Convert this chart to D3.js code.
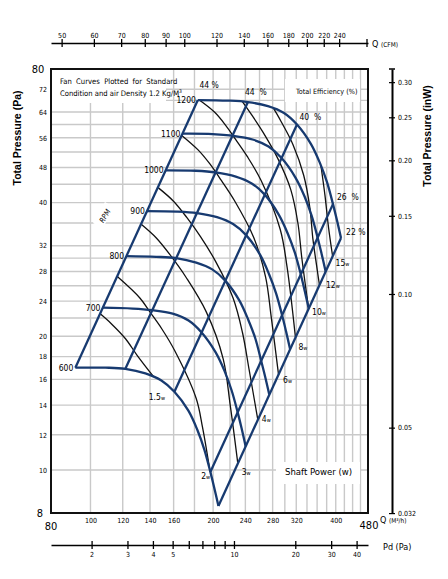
<!DOCTYPE html>
<html>
<head>
<meta charset="utf-8">
<script src="https://cdn.jsdelivr.net/npm/d3@7"></script>
<style>
body { margin: 0; background: #fff; }
</style>
</head>
<body>
<script>
// page size
const w = 448;
const h = 579;
const font = "'Liberation Sans Narrow', 'DejaVu Sans Condensed', 'Liberation Sans', sans-serif";
const blue = "#173a70";

// axis ticks
const qTicks = [100, 120, 140, 160, 200, 240, 280, 320, 400];
const qGrid = [100, 120, 140, 160, 180, 200, 220, 240, 260, 280, 300, 320, 340, 360, 380, 400, 420, 440, 460];
const pTicks = [72, 64, 56, 48, 40, 32, 28, 24, 20, 18, 16, 14, 12, 10];
const pGrid = [10, 12, 14, 16, 18, 20, 22, 24, 26, 28, 30, 32, 36, 40, 44, 48, 52, 56, 60, 64, 68, 72];
const cfmTicks = [50, 60, 70, 80, 90, 100, 120, 140, 160, 180, 200, 220, 240];
const pdTicks = [2, 3, 4, 5, 6, 7, 8, 9, 10, 20, 30, 40];
const pdLabels = [2, 3, 4, 5, 10, 20, 30, 40];
const inwTicks = [0.30, 0.25, 0.20, 0.15, 0.10, 0.05, 0.0321];

// unit conversions used for the extra axes
const cfmFactor = 1.699;   // m3/h per CFM
const inwFactor = 249.1;   // Pa per inch of water
const pdDomain = [1.264, 45.5];

// fan curves, [Q m3/h, P Pa]
const rpms = [600, 700, 800, 900, 1000, 1100, 1200];
const curve600 = [[91.8,17.0],[108.8,17.0],[121.8,16.9],[136.4,16.5],[149.3,15.9],[160.7,15.0],[173.9,13.6],[183.0,12.3],[190.4,11.1],[196.9,9.9],[201.4,9.1],[206.1,8.3]];
const curve700 = [[107.0,23.2],[126.9,23.1],[142.0,22.9],[159.1,22.5],[174.1,21.7],[187.4,20.4],[202.9,18.4],[213.4,16.7],[222.1,15.1],[229.7,13.5],[235.0,12.4],[240.4,11.3]];
const curve800 = [[122.3,30.3],[145.0,30.2],[162.3,30.0],[181.8,29.3],[199.0,28.3],[214.2,26.7],[231.9,24.1],[243.9,21.8],[253.8,19.8],[262.5,17.6],[268.5,16.2],[274.7,14.8]];
const curve900 = [[137.6,38.3],[163.1,38.2],[182.6,37.9],[204.5,37.1],[223.9,35.8],[241.0,33.8],[260.9,30.5],[274.4,27.6],[285.5,25.0],[295.4,22.3],[302.1,20.5],[309.1,18.7]];
const curve1000 = [[152.9,47.3],[181.3,47.2],[202.9,46.8],[227.3,45.8],[248.8,44.2],[267.8,41.7],[289.8,37.6],[304.9,34.1],[317.3,30.9],[328.2,27.6],[335.7,25.3],[343.4,23.1]];
const curve1100 = [[168.2,57.2],[199.4,57.1],[223.2,56.6],[250.0,55.5],[273.6,53.5],[294.5,50.4],[318.8,45.5],[335.4,41.3],[349.0,37.4],[361.0,33.4],[369.2,30.7],[377.8,28.0]];
const curve1200 = [[183.5,68.1],[217.5,67.9],[243.5,67.4],[272.7,66.0],[298.5,63.7],[321.3,60.0],[347.8,54.2],[365.9,49.1],[380.7,44.5],[393.8,39.7],[402.8,36.5],[412.1,33.3]];

// efficiency lines (600 rpm point -> 1200 rpm point)
const effNames = ["44 %", "44\u00a0\u00a0%", "40\u00a0\u00a0%", "26\u00a0\u00a0%", "22 %"];
const effLines = [
  [[91.8,17.0],[183.5,68.1]],
  [[121.8,16.9],[243.5,67.4]],
  [[160.7,15.0],[321.3,60.0]],
  [[196.9,9.9],[393.8,39.7]],
  [[206.1,8.3],[412.1,33.3]]
];

// shaft power lines
const powerNames = ["1.5", "2", "3", "4", "6", "8", "10", "12", "15"];
const power1_5 = [[105.5,22.5],[112.8,21.3],[121.9,19.75],[130.3,18.1],[143,16.2]];
const power2 = [[116.2,27.3],[132.2,24.4],[139.9,22.7],[149.6,20.8],[160.8,18.6],[181.7,14.5],[188.3,12.5],[195.6,10.2]];
const power3 = [[133,35.8],[145.1,33.3],[157.7,30.3],[171.9,27.1],[192.4,22.7],[211.7,17.8],[220.3,14.0],[229.8,10.4]];
const power4 = [[146.3,43.3],[159.9,40.3],[172.5,37.0],[186.4,33.5],[202.8,29.5],[223.9,24.4],[236.1,20.4],[245.2,16.8],[257.4,13.0]];
const power6 = [[167.5,56.7],[183.7,52.6],[196.4,48.9],[209.5,44.9],[225.4,40.5],[251.6,33.4],[269.1,27.2],[277.8,22.1],[289.5,16.4]];
const power8 = [[185,68.1],[201.8,63.9],[214.5,59.8],[226.9,55.6],[242.3,50.9],[262.5,44.8],[292.3,34.8],[303.7,28.7],[318.5,19.9]];
const power10 = [[236,67.55],[249.5,62.8],[265.3,57.6],[288.6,50.2],[310.2,42.8],[323.1,35.9],[330.1,30.1],[343.1,23.1]];
const power12 = [[281.5,65.2],[293.2,61.1],[314,54.1],[333.7,46.1],[345.5,39.0],[351.6,33.1],[359.3,28.7],[364.8,26.1]];
const power15 = [[367.8,48.5],[376.3,41.6],[384,35.2],[393,30.3]];

const rpmCurves = [curve600, curve700, curve800, curve900, curve1000, curve1100, curve1200];
const powerLines = [power1_5, power2, power3, power4, power6, power8, power10, power12, power15];

// label placement (pixels from the line end)
const powerLabelShift = [[-5,23],[-8,13],[4,13],[4,3],[4.5,8.5],[3,13],[3.5,6.5],[6.5,3],[3,10]];
const effLabelShift = [[1.5,-12],[-3,-7],[2.5,-4.5],[4,-4],[5,-3]];

let svg = d3.select("body")
            .append("svg")
            .attr("width", w)
            .attr("height", h)
            .style("font-family", font);

const x = d3.scaleLog().domain([80, 480]).range([51, 368]);
const y = d3.scaleLog().domain([8, 80]).range([513, 69]);
const xCfm = d3.scaleLog().domain([80 / cfmFactor, 480 / cfmFactor]).range([51, 368]);
const xPd = d3.scaleLog().domain(pdDomain).range([51, 368]);
const yInw = d3.scaleLog().domain([8 / inwFactor, 80 / inwFactor]).range([513, 69]);

// grid
let grid = svg.append("g").attr("stroke", "#c9c9c9").attr("stroke-width", 1.4);
grid.selectAll(".v")
    .data(qGrid)
    .enter()
    .append("line")
    .attr("x1", (d) => x(d))
    .attr("x2", (d) => x(d))
    .attr("y1", 69)
    .attr("y2", 513);
grid.selectAll(".hz")
    .data(pGrid)
    .enter()
    .append("line")
    .attr("x1", 51)
    .attr("x2", 368)
    .attr("y1", (d) => y(d))
    .attr("y2", (d) => y(d));

// white boxes behind the notes
svg.append("rect").attr("x", 52).attr("y", 70).attr("width", 114).attr("height", 33).attr("fill", "#fff");
svg.append("rect").attr("x", 285).attr("y", 79).attr("width", 75).attr("height", 23).attr("fill", "#fff");
svg.append("rect").attr("x", 276).attr("y", 462).attr("width", 84).attr("height", 22).attr("fill", "#fff");

let rpmNote = svg.append("g").attr("transform", "translate(105,216) rotate(-60)");
rpmNote.append("rect").attr("x", -12).attr("y", -7).attr("width", 24).attr("height", 11).attr("fill", "#fff");
rpmNote.append("text").attr("text-anchor", "middle").attr("font-size", 7.5)
    .attr("font-style", "italic").attr("y", 2.5).text("RPM");

const line = d3.line()
               .x((d) => x(d[0]))
               .y((d) => y(d[1]))
               .curve(d3.curveCatmullRom.alpha(0.5));

// shaft power lines
svg.append("g")
    .selectAll("path")
    .data(powerLines)
    .enter()
    .append("path")
    .attr("d", line)
    .attr("fill", "none")
    .attr("stroke", "#111")
    .attr("stroke-width", 1.3);

// efficiency lines
svg.append("g")
    .selectAll("path")
    .data(effLines)
    .enter()
    .append("path")
    .attr("d", d3.line().x((d) => x(d[0])).y((d) => y(d[1])))
    .attr("fill", "none")
    .attr("stroke", blue)
    .attr("stroke-width", 2.3);

// rpm curves
svg.append("g")
    .selectAll("path")
    .data(rpmCurves)
    .enter()
    .append("path")
    .attr("d", line)
    .attr("fill", "none")
    .attr("stroke", blue)
    .attr("stroke-width", 2.3)
    .attr("stroke-linejoin", "round");

// rpm labels
svg.append("g")
    .selectAll("text")
    .data(rpmCurves)
    .enter()
    .append("text")
    .attr("x", (d) => x(d[0][0]) - 2)
    .attr("y", (d, i) => y(d[0][1]) + 3)
    .attr("text-anchor", "end")
    .attr("font-size", 8.5)
    .text((d, i) => rpms[i]);

// power labels
let pl = svg.append("g")
    .selectAll("text")
    .data(powerLines)
    .enter()
    .append("text")
    .attr("x", (d, i) => x(d[d.length - 1][0]) + powerLabelShift[i][0])
    .attr("y", (d, i) => y(d[d.length - 1][1]) + powerLabelShift[i][1])
    .attr("font-size", 8.5);
pl.append("tspan").text((d, i) => powerNames[i]);
pl.append("tspan").attr("font-size", 5.5).text("w");

// efficiency labels
svg.append("g")
    .selectAll("text")
    .data(effLines)
    .enter()
    .append("text")
    .attr("x", (d, i) => x(d[1][0]) + effLabelShift[i][0])
    .attr("y", (d, i) => y(d[1][1]) + effLabelShift[i][1])
    .attr("font-size", 8.5)
    .style("white-space", "pre")
    .text((d, i) => effNames[i]);

// notes
svg.append("text").attr("x", 60).attr("y", 84).attr("font-size", 7.6).text("Fan  Curves  Plotted  for  Standard").style("white-space", "pre");
let note2 = svg.append("text").attr("x", 60).attr("y", 96).attr("font-size", 7.6);
note2.append("tspan").text("Condition and air Density 1.2 Kg/M");
note2.append("tspan").attr("font-size", 5).attr("dy", -3).text("3");
svg.append("text").attr("x", 296).attr("y", 94).attr("font-size", 7.2).text("Total Efficiency (%)");
svg.append("text").attr("x", 285).attr("y", 475).attr("font-size", 9.5).text("Shaft Power (w)");

// frame
svg.append("rect")
    .attr("x", 51).attr("y", 69)
    .attr("width", 317).attr("height", 444)
    .attr("fill", "none")
    .attr("stroke", "#111")
    .attr("stroke-width", 2);

// left axis labels
let leftAxis = svg.append("g")
    .attr("transform", "translate(51,0)")
    .call(d3.axisLeft(y).tickValues(pTicks).tickSize(0).tickPadding(4).tickFormat(d3.format("d")));
leftAxis.select(".domain").remove();
leftAxis.attr("font-family", font).attr("font-size", 7);
svg.append("text").attr("x", 38).attr("y", 73).attr("text-anchor", "middle").attr("font-size", 11).text("80");
svg.append("text").attr("x", 40).attr("y", 517).attr("text-anchor", "middle").attr("font-size", 11).text("8");

// bottom Q axis labels
let bottomAxis = svg.append("g")
    .attr("transform", "translate(0,513)")
    .call(d3.axisBottom(x).tickValues(qTicks).tickSize(0).tickPadding(5).tickFormat(d3.format("d")));
bottomAxis.select(".domain").remove();
bottomAxis.attr("font-family", font).attr("font-size", 7);
svg.append("text").attr("x", 51).attr("y", 530).attr("text-anchor", "middle").attr("font-size", 11).text("80");
svg.append("text").attr("x", 369).attr("y", 529).attr("text-anchor", "middle").attr("font-size", 11).text("480");
let qLab = svg.append("text").attr("x", 380).attr("y", 523).attr("font-size", 9);
qLab.append("tspan").text("Q ");
qLab.append("tspan").attr("font-size", 6.5).text("(M³/h)");

// top CFM axis
let topAxis = svg.append("g")
    .attr("transform", "translate(0,43)")
    .call(d3.axisTop(xCfm).tickValues(cfmTicks).tickSize(4).tickSizeOuter(0).tickPadding(1).tickFormat(d3.format("d")));
topAxis.attr("font-family", font).attr("font-size", 7);
topAxis.selectAll(".tick line").attr("y1", 4).attr("stroke-width", 1.3);
topAxis.select(".domain").attr("stroke-width", 1.5);
topAxis.append("line").attr("x1", 367).attr("x2", 367).attr("y1", -4).attr("y2", 4).attr("stroke", "#000").attr("stroke-width", 1.3);
let cfmLab = svg.append("text").attr("x", 372).attr("y", 46.5).attr("font-size", 9);
cfmLab.append("tspan").text("Q ");
cfmLab.append("tspan").attr("font-size", 6.5).text("(CFM)");

// Pd axis
let pdAxis = svg.append("g")
    .attr("transform", "translate(0,545)")
    .call(d3.axisBottom(xPd).tickValues(pdTicks).tickSize(4).tickSizeOuter(0).tickPadding(3)
          .tickFormat((d) => pdLabels.includes(d) ? d : ""));
pdAxis.attr("font-family", font).attr("font-size", 7);
pdAxis.selectAll(".tick line").attr("y1", -4).attr("stroke-width", 1.3);
pdAxis.select(".domain").attr("stroke-width", 1.5);
svg.append("text").attr("x", 383).attr("y", 550).attr("font-size", 9).text("Pd (Pa)");

// right inW axis
let rightAxis = svg.append("g")
    .attr("transform", "translate(392,0)")
    .call(d3.axisRight(yInw).tickValues(inwTicks).tickSize(3).tickSizeOuter(0).tickPadding(3)
          .tickFormat((d) => d < 0.04 ? "0.032" : d3.format(".2f")(d)));
rightAxis.attr("font-family", font).attr("font-size", 7);
rightAxis.selectAll(".tick line").attr("x1", -3).attr("stroke-width", 1.2);
rightAxis.select(".domain").attr("stroke-width", 2);
rightAxis.append("line").attr("x1", -3).attr("x2", 3).attr("y1", 69).attr("y2", 69).attr("stroke", "#000").attr("stroke-width", 1.5);

// axis titles
svg.append("text")
    .attr("transform", "translate(21,138) rotate(-90)")
    .attr("text-anchor", "middle")
    .attr("font-size", 10.5)
    .attr("font-weight", "bold")
    .attr("font-family", "'Liberation Sans', sans-serif")
    .text("Total Pressure (Pa)");
svg.append("text")
    .attr("transform", "translate(431,136) rotate(-90)")
    .attr("text-anchor", "middle")
    .attr("font-size", 10.5)
    .attr("font-weight", "bold")
    .attr("font-family", "'Liberation Sans', sans-serif")
    .text("Total Pressure (inW)");
</script>
</body>
</html>
